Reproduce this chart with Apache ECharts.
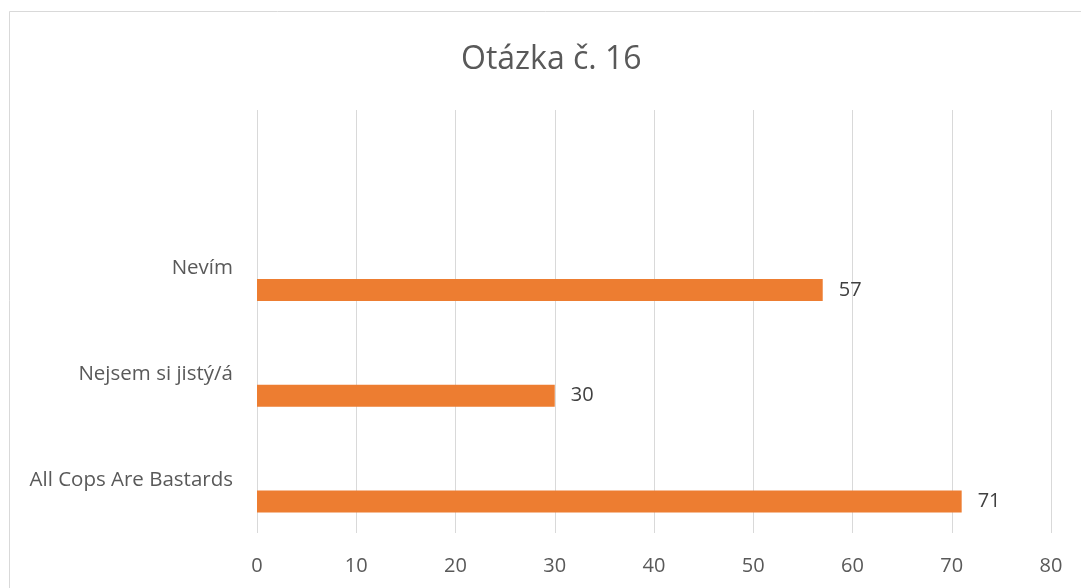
<!DOCTYPE html>
<html>
<head>
<meta charset="utf-8">
<script src="https://cdn.jsdelivr.net/npm/echarts@6/dist/echarts.min.js"></script>
<style>
  html, body { margin: 0; padding: 0; background: #fff; }
  #chart { width: 1081px; height: 588px; }
</style>
</head>
<body>
<div id="chart"></div>
<script>
  // categories from bottom to top, the last one is the empty band at the top
  const categories = ['All Cops Are Bastards', 'Nejsem si jistý/á', 'Nevím', ''];
  const values = [71, 30, 57, null];
  const xTicks = { min: 0, max: 80, interval: 10 };

  const chart = echarts.init(document.getElementById('chart'));
  const font = '"Open Sans", "Noto Sans", sans-serif';

  const option = {
    animation: false,
    backgroundColor: '#fff',
    title: {
      text: 'Otázka č. 16',
      left: 456,
      top: 39,
      textStyle: { fontFamily: font, fontSize: 32, fontWeight: 'normal', color: '#595959' }
    },
    graphic: [{
      type: 'rect',
      shape: { x: 9.5, y: 11.5, width: 1200, height: 700 },
      style: { fill: 'none', stroke: '#d9d9d9', lineWidth: 1 },
      silent: true
    }],
    grid: { left: 257, right: 30, top: 110, bottom: 55 },
    xAxis: {
      type: 'value',
      min: xTicks.min,
      max: xTicks.max,
      interval: xTicks.interval,
      axisLine: { show: false },
      axisTick: { show: false },
      splitLine: { lineStyle: { color: '#d9d9d9', width: 1 } },
      axisLabel: { color: '#595959', fontFamily: font, fontSize: 20, margin: 23 }
    },
    yAxis: {
      type: 'category',
      data: categories,
      axisLine: { show: false },
      axisTick: { show: false },
      axisLabel: { color: '#595959', fontFamily: font, fontSize: 20.5, margin: 24 }
    },
    series: [
      {
        // empty companion series so the real bar sits in the lower half of each band
        name: 'Řada 2',
        type: 'bar',
        data: [],
        barWidth: 22,
        barGap: '94%'
      },
      {
        name: 'Řada 1',
        type: 'bar',
        data: values,
        barWidth: 22,
        barGap: '94%',
        itemStyle: { color: '#ed7d31' },
        label: {
          show: true,
          position: 'right',
          distance: 16,
          color: '#404040',
          fontFamily: font,
          fontSize: 20
        }
      }
    ]
  };

  chart.setOption(option);
</script>
</body>
</html>
